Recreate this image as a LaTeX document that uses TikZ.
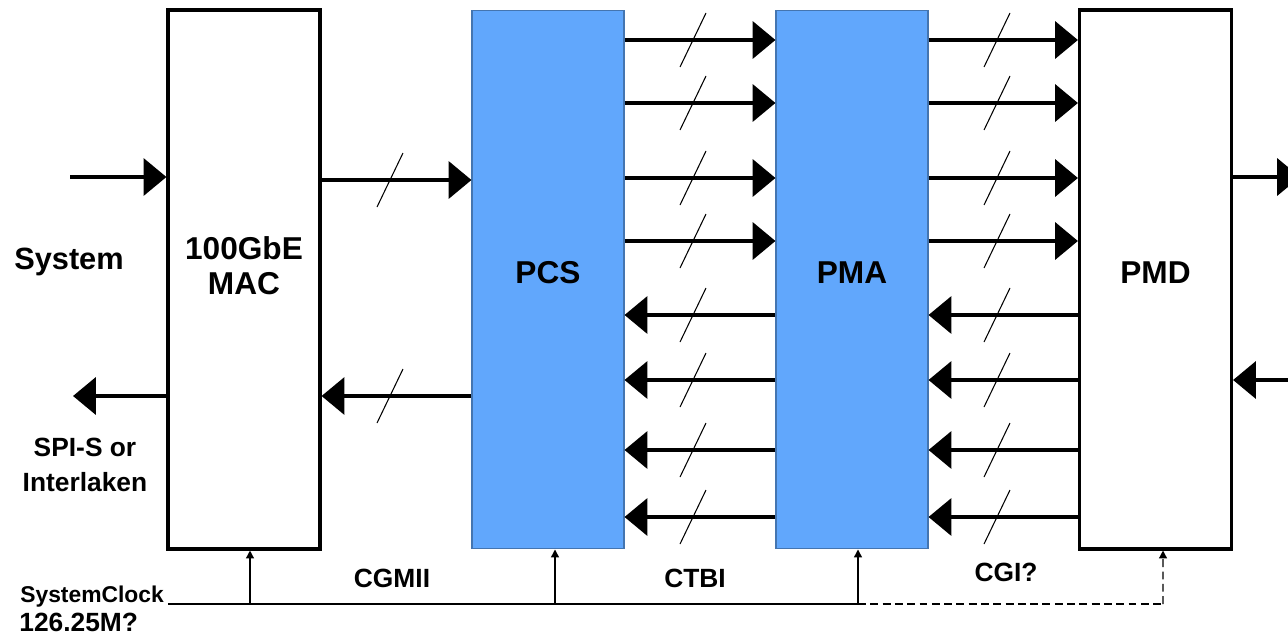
\documentclass[tikz,border=0pt]{standalone}
\usepackage{fontspec}
\setmainfont{Liberation Sans}
\usetikzlibrary{arrows.meta}
\definecolor{phyblue}{RGB}{97,167,252}

\begin{document}
\begin{tikzpicture}[x=0.02cm, y=-0.02cm,
    every node/.style={inner sep=0pt},
    blk/.style={draw, line width=1.8pt, minimum width=3.04cm, minimum height=10.78cm,
        align=center, text depth=8pt, font=\fontsize{18}{20}\selectfont\bfseries},
    phy/.style={blk, fill=phyblue, draw=phyblue!70!black, line width=0.6pt},
    txt/.style={align=center, font=\fontsize{15}{20}\selectfont\bfseries},
    bus/.style={line width=2.2pt, -{Triangle[length=13pt, width=21pt]}},
    slash/.style={line width=0.6pt},
    clk/.style={line width=0.8pt, -{Triangle[length=4.5pt, width=4.5pt]}},
    clkdash/.style={dash pattern=on 4.5pt off 2.5pt}]
  \useasboundingbox (0,0) rectangle (1288,636);

  % blocks
  \node[blk, text depth=16pt] (mac) at (244,279.5) {100GbE\\MAC};
  \node[phy] (pcs) at (548,279.5) {PCS};
  \node[phy] (pma) at (852,279.5) {PMA};
  \node[blk] (pmd) at (1155.5,279.5) {PMD};

  % system side
  \node[txt, font=\fontsize{17.5}{20}\selectfont\bfseries] (sys) at (69,262) {System};
  \node[txt] (spi) at (85,465) {SPI-S or\\Interlaken};
  \coordinate (sysin) at (70,177);
  \coordinate (sysout) at (73,396);
  \draw[bus] (sysin) -- (mac.west |- sysin);
  \draw[bus] (mac.west |- sysout) -- (sysout);

  % MAC <-> PCS
  \draw[bus] (mac.east |- 0,180) -- (pcs.west |- 0,180);
  \draw[bus] (pcs.west |- 0,396) -- (mac.east |- 0,396);
  \draw[slash] (390,180) +(-13,27) -- +(13,-27);
  \draw[slash] (390,396) +(-13,27) -- +(13,-27);

  % lanes PCS -> PMA -> PMD
  \foreach \y in {40,103,178,241} {
    \draw[bus] (pcs.east |- 0,\y) -- (pma.west |- 0,\y);
    \draw[bus] (pma.east |- 0,\y) -- (pmd.west |- 0,\y);
    \draw[slash] (693,\y) +(-13,27) -- +(13,-27);
    \draw[slash] (997,\y) +(-13,27) -- +(13,-27);
  }
  % lanes PMD -> PMA -> PCS
  \foreach \y in {315,380,450,517} {
    \draw[bus] (pma.west |- 0,\y) -- (pcs.east |- 0,\y);
    \draw[bus] (pmd.west |- 0,\y) -- (pma.east |- 0,\y);
    \draw[slash] (693,\y) +(-13,27) -- +(13,-27);
    \draw[slash] (997,\y) +(-13,27) -- +(13,-27);
  }

  % line side
  \coordinate (lineout) at (1300,177);
  \coordinate (linein) at (1300,380);
  \draw[bus] (pmd.east |- lineout) -- (lineout);
  \draw[bus] (linein) -- (pmd.east |- linein);

  % interface names
  \node[txt] (cgmii) at (392,578) {CGMII};
  \node[txt] (ctbi) at (695,578) {CTBI};
  \node[txt] (cgi) at (1006,572) {CGI?};

  % clock
  \node[txt, anchor=west, font=\fontsize{13}{15}\selectfont\bfseries] (sysclk) at (20,597) {SystemClock};
  \node[txt, anchor=west] (freq) at (19,622) {126.25M?};
  \coordinate (c0) at (168,604);
  \coordinate (c1) at (858,604);
  \coordinate (c2) at (1163,604);
  \coordinate (tmac) at ([xshift=0.12cm]mac.south);
  \coordinate (tpcs) at ([xshift=0.14cm]pcs.south);
  \coordinate (tpma) at ([xshift=0.12cm]pma.south);
  \coordinate (tpmd) at ([xshift=0.15cm]pmd.south);
  \draw[line width=0.8pt] (c0) -- (c1);
  \draw[line width=0.8pt, clkdash] (c1) -- (c2);
  \draw[clk] (tmac |- c0) -- (tmac);
  \draw[clk] (tpcs |- c0) -- (tpcs);
  \draw[clk] (tpma |- c0) -- (tpma);
  \draw[clk, clkdash] (c2) -- (tpmd);
\end{tikzpicture}
\end{document}
